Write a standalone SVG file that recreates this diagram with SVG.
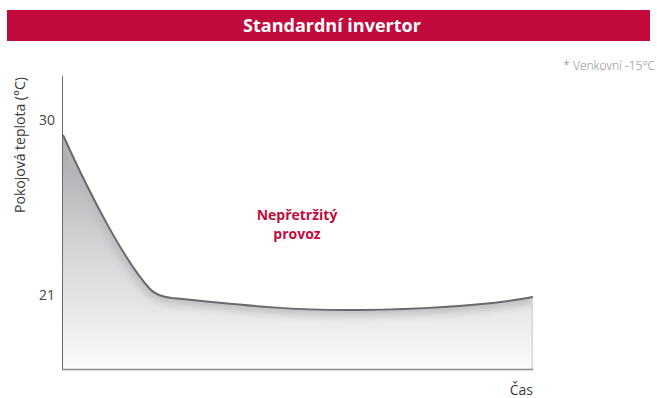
<svg xmlns="http://www.w3.org/2000/svg" width="657" height="398" viewBox="0 0 657 398">
<style>
.t{font-family:"Open Sans","Noto Sans","Liberation Sans",sans-serif;}
.ax{font-size:14px;fill:#3a3a3a;}
.num{font-size:14px;fill:#444;}
</style>
<defs>
<linearGradient id="fillG" x1="0" y1="134" x2="0" y2="370" gradientUnits="userSpaceOnUse">
<stop offset="0" stop-color="#a4a4a8"/>
<stop offset="0.45" stop-color="#d2d2d4"/>
<stop offset="0.7" stop-color="#e4e4e6"/>
<stop offset="1" stop-color="#fbfbfb"/>
</linearGradient>
<clipPath id="areaClip">
<path d="M63,135 C90,195 125,262 150,289 Q156,296 172,298 C250,306 300,311 360,310 C430,309 490,305 533,297 L533,369 L63,369 Z"/>
</clipPath>
<filter id="blur" x="-10%" y="-10%" width="120%" height="120%"><feGaussianBlur stdDeviation="5"/></filter>
</defs>
<g id="header">
<rect x="7" y="10" width="643" height="31" fill="#c20a3d"/>
<text class="t" x="332" y="32" text-anchor="middle" font-size="18" font-weight="bold" fill="#fff">Standardní invertor</text>
</g>
<g id="note">
<text class="t" x="655" y="70" text-anchor="end" font-size="12" fill="#858585" font-weight="300">* Venkovní -15°C</text>
</g>
<g id="area">
<path d="M63,135 C90,195 125,262 150,289 Q156,296 172,298 C250,306 300,311 360,310 C430,309 490,305 533,297 L533,369 L63,369 Z" fill="url(#fillG)"/>
<g clip-path="url(#areaClip)">
<path d="M63,135 C90,195 125,262 150,289 Q156,296 172,298 C250,306 300,311 360,310 C430,309 490,305 533,297" fill="none" stroke="#b8b8bc" stroke-width="10" filter="url(#blur)"/>
<line x1="532.5" y1="297" x2="532.5" y2="369" stroke="#d6d6d8" stroke-width="2"/>
</g>
</g>
<g id="connectors">
<path d="M63,135 C90,195 125,262 150,289 Q156,296 172,298 C250,306 300,311 360,310 C430,309 490,305 533,297" fill="none" stroke="#6a6a6e" stroke-width="2"/>
<line x1="62.5" y1="76" x2="62.5" y2="370" stroke="#6a6a6a" stroke-width="1"/>
<line x1="62" y1="369.5" x2="533" y2="369.5" stroke="#8a8a8a" stroke-width="1.5"/>
</g>
<g id="labels">
<text class="t ax" transform="translate(25,145) rotate(-90)" text-anchor="middle">Pokojová teplota (°C)</text>
<text class="t num" x="55" y="125" text-anchor="end">30</text>
<text class="t num" x="55" y="300" text-anchor="end">21</text>
<text class="t ax" x="533" y="395" text-anchor="end">Čas</text>
<text class="t" x="297" y="220" text-anchor="middle" font-size="14" font-weight="bold" fill="#c20a3d">Nepřetržitý</text>
<text class="t" x="297" y="239" text-anchor="middle" font-size="14" font-weight="bold" fill="#c20a3d">provoz</text>
</g>
</svg>
